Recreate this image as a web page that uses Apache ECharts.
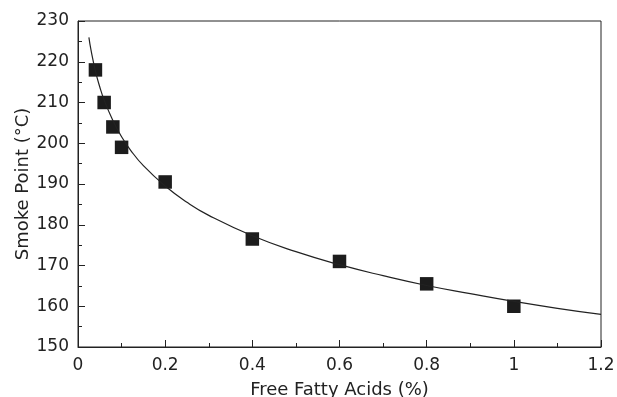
<!DOCTYPE html>
<html>
<head>
<meta charset="utf-8">
<script src="https://cdn.jsdelivr.net/npm/echarts@6/dist/echarts.min.js"></script>
<style>
  html, body { margin: 0; padding: 0; background: #fff; }
  #chart { width: 617px; height: 397px; }
</style>
</head>
<body>
<div id="chart"></div>
<script>
// measured points
const ffa = [0.04, 0.06, 0.08, 0.1, 0.2, 0.4, 0.6, 0.8, 1.0];
const smokePoint = [218, 210, 204, 199, 190.5, 176.5, 171, 165.5, 160];

// fitted curve
const fitX = [0.025, 0.03, 0.04, 0.05, 0.06, 0.08, 0.1, 0.12, 0.15, 0.2, 0.25, 0.3, 0.4, 0.5, 0.6, 0.7, 0.8, 0.9, 1.0, 1.1, 1.2];
const fitY = [226, 222.8, 217.7, 213.8, 210.6, 205.6, 201.6, 198.4, 194.5, 189.5, 185.5, 182.3, 177.3, 173.4, 170.2, 167.5, 165.1, 163.1, 161.2, 159.5, 158];

const chart = echarts.init(document.getElementById('chart'));
const font = 'DejaVu Sans, sans-serif';
const ink = '#222';

chart.setOption({
  animation: false,
  backgroundColor: '#fff',
  grid: {
    left: 78, top: 21, right: 16, bottom: 50,
    outerBoundsMode: 'none', containLabel: false,
    show: true, borderColor: ink, borderWidth: 1
  },
  xAxis: {
    type: 'value',
    min: 0,
    max: 1.2,
    interval: 0.2,
    name: 'Free Fatty Acids (%)',
    nameLocation: 'middle',
    nameGap: 34,
    nameMoveOverlap: false,
    nameTextStyle: { fontFamily: font, fontSize: 18, color: ink },
    axisLine: { lineStyle: { color: ink, width: 1 } },
    axisTick: { inside: true, length: 7, lineStyle: { color: ink } },
    minorTick: { show: true, splitNumber: 2, length: 4, lineStyle: { color: ink } },
    axisLabel: { fontFamily: font, fontSize: 17, color: ink, margin: 10 },
    splitLine: { show: false }
  },
  yAxis: {
    type: 'value',
    min: 150,
    max: 230,
    interval: 10,
    name: 'Smoke Point (°C)',
    nameLocation: 'middle',
    nameGap: 46,
    nameMoveOverlap: false,
    nameTextStyle: { fontFamily: font, fontSize: 18, color: ink },
    axisLine: { show: true, lineStyle: { color: ink, width: 1 } },
    axisTick: { show: true, inside: true, length: 7, lineStyle: { color: ink } },
    minorTick: { show: true, splitNumber: 2, length: 4, lineStyle: { color: ink } },
    axisLabel: { fontFamily: font, fontSize: 17, color: ink, margin: 9 },
    splitLine: { show: false }
  },
  series: [
    {
      type: 'line',
      data: fitX.map((x, i) => [x, fitY[i]]),
      smooth: true,
      showSymbol: false,
      lineStyle: { color: ink, width: 1.2 },
      silent: true
    },
    {
      type: 'scatter',
      data: ffa.map((x, i) => [x, smokePoint[i]]),
      symbol: 'rect',
      symbolSize: 13.5,
      itemStyle: { color: '#1c1c1c', opacity: 1 }
    }
  ]
});
</script>
</body>
</html>
